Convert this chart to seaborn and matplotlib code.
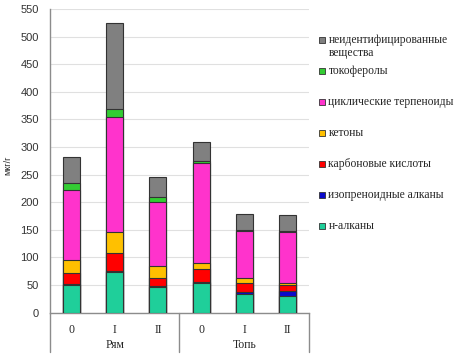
import numpy as np
import pandas as pd
import matplotlib
matplotlib.use("Agg")
import matplotlib.pyplot as plt
from matplotlib.patches import Rectangle
import seaborn as sns

# данные (мкг/г)
sites = ["Рям", "Рям", "Рям", "Топь", "Топь", "Топь"]
horizons = ["0", "I", "II", "0", "I", "II"]
n_alkanes = [50, 74, 47, 54, 34, 30]
isoprenoid = [2, 2, 1, 2, 3, 10]
carboxylic = [20, 32, 15, 23, 17, 11]
ketones = [23, 38, 21, 11, 8, 2]
terpenoids = [128, 208, 116, 182, 86, 93]
tocopherols = [11, 14, 10, 2, 2, 2]
unidentified = [48, 156, 36, 35, 28, 29]

layers = [
    ("н-алканы", n_alkanes, "#1fcf9a"),
    ("изопреноидные алканы", isoprenoid, "#0a0acc"),
    ("карбоновые кислоты", carboxylic, "#ff0000"),
    ("кетоны", ketones, "#ffc000"),
    ("циклические терпеноиды", terpenoids, "#ff33cc"),
    ("токоферолы", tocopherols, "#33cc33"),
    ("неидентифицированные\nвещества", unidentified, "#808080"),
]

sns.set_style("white")
plt.rcParams["font.family"] = ["Liberation Serif", "DejaVu Serif"]

fig = plt.figure(figsize=(4.6, 3.56), dpi=100)
ax = fig.add_axes([50 / 460, (356 - 312.7) / 356, 259 / 460, 303.7 / 356])

keys = [f"{s} {h}" for s, h in zip(sites, horizons)]
cum = np.cumsum([np.array(v) for _, v, _ in layers], axis=0)

# рисуем накопленные суммы сверху вниз, каждый слой перекрывает предыдущий
for k in range(len(layers) - 1, -1, -1):
    df = pd.DataFrame({"key": keys, "val": cum[k]})
    sns.barplot(data=df, x="key", y="val", color=layers[k][2], width=0.39,
                edgecolor="#333333", linewidth=0.8, saturation=1, ax=ax,
                zorder=3)

ax.set_xlim(-0.5, 5.5)
ax.set_ylim(0, 550)
ax.set_yticks(np.arange(0, 551, 50))
ax.tick_params(axis="y", labelsize=8, length=0, pad=8)
for t in ax.get_yticklabels():
    t.set_family(["Liberation Sans", "DejaVu Sans"])
    t.set_color("#333333")
ax.yaxis.grid(True, color="#e0e0e0", linewidth=0.8, zorder=0)
ax.set_axisbelow(True)
ax.set_xlabel("")
ax.set_ylabel("")
ax.set_xticks(range(6))
ax.set_xticklabels(horizons, fontsize=8.5)
ax.tick_params(axis="x", length=0, pad=8)

for s in ["top", "right"]:
    ax.spines[s].set_visible(False)
ax.spines["left"].set_color("#8c8c8c")
ax.spines["bottom"].set_color("#8c8c8c")
ax.spines["left"].set_linewidth(1)
ax.spines["bottom"].set_linewidth(1)

# разделители групп
trans = ax.get_xaxis_transform()
for xpos in [-0.5, 2.5, 5.5]:
    ax.plot([xpos, xpos], [0, -0.129], transform=trans, color="#8c8c8c",
            linewidth=1, clip_on=False)
for name, xc in [("Рям", 1), ("Топь", 4)]:
    ax.text(xc, -0.105, name, transform=trans, ha="center", va="center",
            fontsize=8.5)

fig.text(8 / 460, 1 - 165 / 356, "мкг/г", rotation=90, ha="center",
         va="center", fontsize=6.5, family=["Liberation Sans", "DejaVu Sans"])

# легенда
for i, (label, _, color) in enumerate(reversed(layers)):
    yc = 40 + 31 * i
    fig.patches.append(Rectangle((319 / 460, 1 - (yc + 3) / 356), 6 / 460, 6 / 356,
                                 transform=fig.transFigure, facecolor=color,
                                 edgecolor="#333333", linewidth=0.6))
    fig.text(328.5 / 460, 1 - (yc - 6) / 356, label, ha="left", va="top",
             fontsize=8.4, linespacing=1.1)

fig.savefig("out.png", dpi=100)
